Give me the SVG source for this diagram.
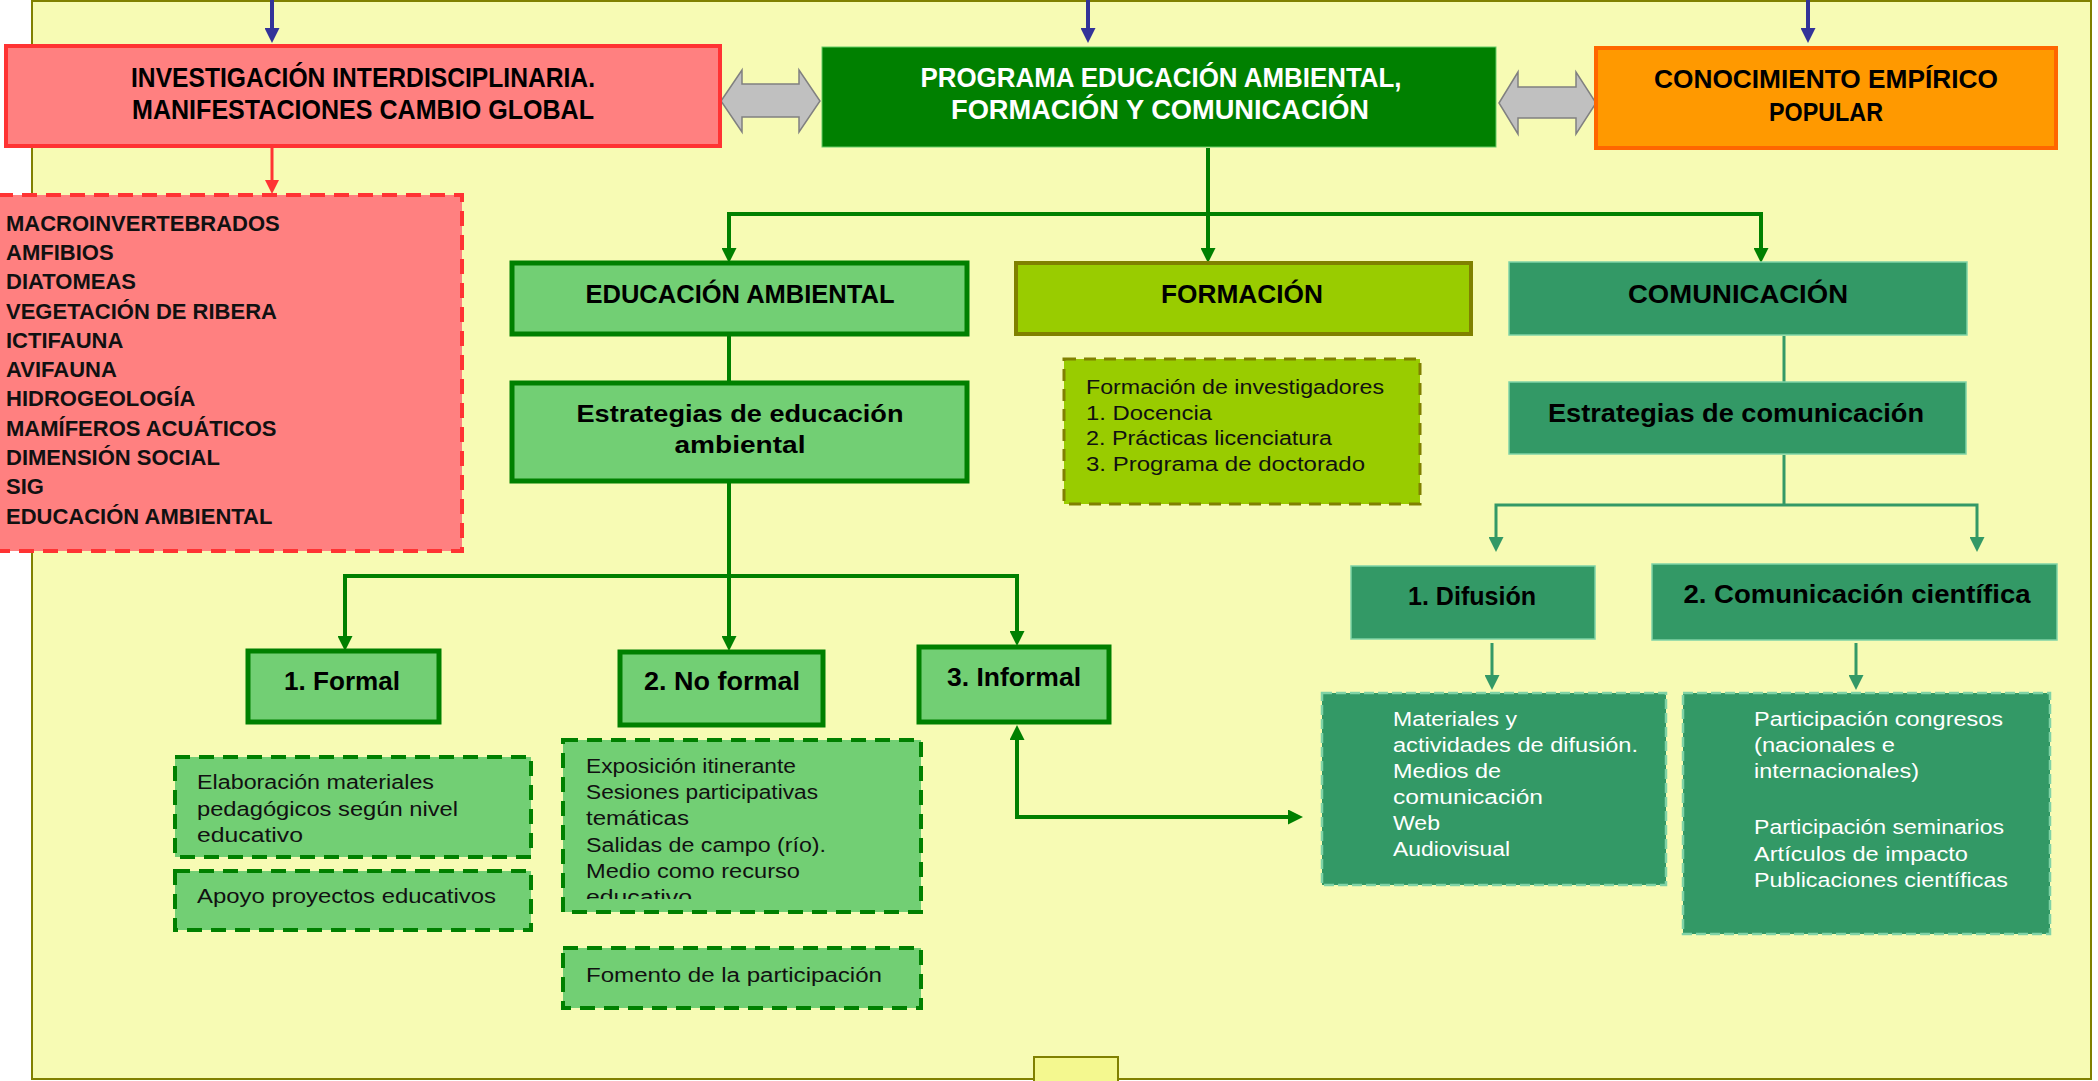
<svg xmlns="http://www.w3.org/2000/svg" width="2098" height="1081" viewBox="0 0 2098 1081">
  <style>
    .hd { font-family: "Liberation Sans", Arial, sans-serif; text-anchor: middle; font-weight: bold; }
    .t28 { font-size: 28px; }
    .t27 { font-size: 27px; }
    .t26 { font-size: 26px; }
    .t25 { font-size: 25px; }
    .t23 { font-size: 23px; }
    .list { font-family: "Liberation Sans", Arial, sans-serif; font-size: 22px; font-weight: bold; fill: #111; }
    .body { font-family: "Liberation Sans", Arial, sans-serif; font-size: 20px; fill: #111; }
    .bodyW { font-family: "Liberation Sans", Arial, sans-serif; font-size: 20px; fill: #ffffff; }
    .lg { fill: #72CF74; stroke: #008000; stroke-width: 5; }
    .lgd { fill: #72CF74; stroke: #008000; stroke-width: 4; stroke-dasharray: 15 9; }
    .lime { fill: #99CC00; stroke: #808000; stroke-width: 4; }
    .limed { fill: #99CC00; stroke: #808000; stroke-width: 3; stroke-dasharray: 12 8; }
    .teal { fill: #339966; stroke: #7FD3A6; stroke-width: 1.5; }
    .teald { fill: #339966; stroke: #7FD3A6; stroke-width: 2.5; stroke-dasharray: 10 4; }
    .dbl { fill: #C0C0C0; stroke: #808080; stroke-width: 1.5; }
    .cGreen { fill: none; stroke: #008000; stroke-width: 4; }
    .cTeal { fill: none; stroke: #339966; stroke-width: 3; }
    .cBlue { fill: none; stroke: #333399; stroke-width: 4; }
    .cRed { fill: none; stroke: #FF3333; stroke-width: 3; }
  </style>
  <defs>
    <marker id="mBlue" markerUnits="userSpaceOnUse" viewBox="0 0 10 10" markerWidth="15" markerHeight="15" refX="6.67" refY="5" orient="auto">
      <path d="M0,0 L10,5 L0,10 z" fill="#333399"/>
    </marker>
    <marker id="mRed" markerUnits="userSpaceOnUse" viewBox="0 0 10 10" markerWidth="14" markerHeight="14" refX="6.4" refY="5" orient="auto">
      <path d="M0,0 L10,5 L0,10 z" fill="#FF3333"/>
    </marker>
    <marker id="mGreen" markerUnits="userSpaceOnUse" viewBox="0 0 10 10" markerWidth="15" markerHeight="15" refX="6.67" refY="5" orient="auto-start-reverse">
      <path d="M0,0 L10,5 L0,10 z" fill="#008000"/>
    </marker>
    <marker id="mTeal" markerUnits="userSpaceOnUse" viewBox="0 0 10 10" markerWidth="15" markerHeight="15" refX="6.67" refY="5" orient="auto-start-reverse">
      <path d="M0,0 L10,5 L0,10 z" fill="#339966"/>
    </marker>
    <clipPath id="clipNoFormal">
      <rect x="563" y="740" width="358" height="159"/>
    </clipPath>
  </defs>

  <!-- page -->
  <rect x="0" y="0" width="2098" height="1081" fill="#ffffff"/>
  <rect x="32" y="1" width="2059" height="1078" fill="#F7FBB4" stroke="#808000" stroke-width="2"/>
  <rect x="1034" y="1057" width="84" height="30" fill="#F4F88F" stroke="#808000" stroke-width="2"/>

  <!-- connectors -->
  <g id="connectors">
    <path class="cBlue" d="M272,0 V38" marker-end="url(#mBlue)"/>
    <path class="cBlue" d="M1088,0 V38" marker-end="url(#mBlue)"/>
    <path class="cBlue" d="M1808,0 V38" marker-end="url(#mBlue)"/>
    <path class="cRed" d="M272,147 V189" marker-end="url(#mRed)"/>

    <path class="cGreen" d="M1208,148 V258" marker-end="url(#mGreen)"/>
    <path class="cGreen" d="M729,258 V214 H1761 V258" marker-start="url(#mGreen)" marker-end="url(#mGreen)"/>
    <path class="cGreen" d="M729,334 V383"/>
    <path class="cGreen" d="M729,481 V646" marker-end="url(#mGreen)"/>
    <path class="cGreen" d="M345,646 V576 H1017 V641" marker-start="url(#mGreen)" marker-end="url(#mGreen)"/>
    <path class="cGreen" d="M1017,730 V817 H1298" marker-start="url(#mGreen)" marker-end="url(#mGreen)"/>

    <path class="cTeal" d="M1784,336 V382"/>
    <path class="cTeal" d="M1784,455 V505"/>
    <path class="cTeal" d="M1496,547 V505 H1977 V547" marker-start="url(#mTeal)" marker-end="url(#mTeal)"/>
    <path class="cTeal" d="M1492,643 V685" marker-end="url(#mTeal)"/>
    <path class="cTeal" d="M1856,643 V685" marker-end="url(#mTeal)"/>

    <polygon class="dbl" points="721,101 742,70 742,84 799,84 799,70 820,101 799,132 799,117 742,117 742,132"/>
    <polygon class="dbl" points="1499,103 1518,72 1518,87 1576,87 1576,72 1596,103 1576,134 1576,118 1518,118 1518,134"/>
  </g>

  <!-- top row -->
  <g id="investigacion">
    <rect x="6" y="46" width="714" height="100" fill="#FF8080" stroke="#FF3333" stroke-width="4"/>
    <text class="hd t28" x="363" y="87" textLength="464" lengthAdjust="spacingAndGlyphs">INVESTIGACIÓN INTERDISCIPLINARIA.</text>
    <text class="hd t28" x="363" y="119" textLength="462" lengthAdjust="spacingAndGlyphs">MANIFESTACIONES CAMBIO GLOBAL</text>
  </g>
  <g id="programa">
    <rect x="822" y="47" width="674" height="100" fill="#008000" stroke="#66CC66" stroke-width="1"/>
    <text class="hd t27" x="1161" y="87" fill="#ffffff" textLength="481" lengthAdjust="spacingAndGlyphs">PROGRAMA EDUCACIÓN AMBIENTAL,</text>
    <text class="hd t27" x="1160" y="119" fill="#ffffff" textLength="418" lengthAdjust="spacingAndGlyphs">FORMACIÓN Y COMUNICACIÓN</text>
  </g>
  <g id="conocimiento">
    <rect x="1596" y="48" width="460" height="100" fill="#FF9900" stroke="#FF6600" stroke-width="4"/>
    <text class="hd t25" x="1826" y="88" textLength="344" lengthAdjust="spacingAndGlyphs">CONOCIMIENTO EMPÍRICO</text>
    <text class="hd t25" x="1826" y="121" textLength="114" lengthAdjust="spacingAndGlyphs">POPULAR</text>
  </g>

  <!-- research topics -->
  <g id="temas">
    <rect x="-2" y="195" width="464" height="356" fill="#FF8080" stroke="#FF3333" stroke-width="4" stroke-dasharray="15 9"/>
    <text class="list" x="6" y="231">MACROINVERTEBRADOS</text>
    <text class="list" x="6" y="260">AMFIBIOS</text>
    <text class="list" x="6" y="289">DIATOMEAS</text>
    <text class="list" x="6" y="319">VEGETACIÓN DE RIBERA</text>
    <text class="list" x="6" y="348">ICTIFAUNA</text>
    <text class="list" x="6" y="377">AVIFAUNA</text>
    <text class="list" x="6" y="406">HIDROGEOLOGÍA</text>
    <text class="list" x="6" y="436">MAMÍFEROS ACUÁTICOS</text>
    <text class="list" x="6" y="465">DIMENSIÓN SOCIAL</text>
    <text class="list" x="6" y="494">SIG</text>
    <text class="list" x="6" y="524">EDUCACIÓN AMBIENTAL</text>
  </g>

  <!-- second level -->
  <g id="educacion-ambiental">
    <rect class="lg" x="512" y="263" width="455" height="71"/>
    <text class="hd t25" x="740" y="303" textLength="309" lengthAdjust="spacingAndGlyphs">EDUCACIÓN AMBIENTAL</text>
  </g>
  <g id="formacion">
    <rect class="lime" x="1016" y="263" width="455" height="71"/>
    <text class="hd t25" x="1242" y="303" textLength="162" lengthAdjust="spacingAndGlyphs">FORMACIÓN</text>
  </g>
  <g id="comunicacion">
    <rect class="teal" x="1509" y="262" width="458" height="73"/>
    <text class="hd t26" x="1738" y="303" textLength="220" lengthAdjust="spacingAndGlyphs">COMUNICACIÓN</text>
  </g>

  <g id="estrategias-ea">
    <rect class="lg" x="512" y="383" width="455" height="98"/>
    <text class="hd t23" x="740" y="422" textLength="327" lengthAdjust="spacingAndGlyphs">Estrategias de educación</text>
    <text class="hd t23" x="740" y="453" textLength="131" lengthAdjust="spacingAndGlyphs">ambiental</text>
  </g>
  <g id="formacion-detalle">
    <rect class="limed" x="1064" y="359" width="356" height="145"/>
    <text class="body" x="1086" y="394" textLength="298" lengthAdjust="spacingAndGlyphs">Formación de investigadores</text>
    <text class="body" x="1086" y="420" textLength="126" lengthAdjust="spacingAndGlyphs">1. Docencia</text>
    <text class="body" x="1086" y="445" textLength="246" lengthAdjust="spacingAndGlyphs">2. Prácticas licenciatura</text>
    <text class="body" x="1086" y="471" textLength="279" lengthAdjust="spacingAndGlyphs">3. Programa de doctorado</text>
  </g>
  <g id="estrategias-com">
    <rect class="teal" x="1509" y="382" width="457" height="72"/>
    <text class="hd t25" x="1736" y="422" textLength="376" lengthAdjust="spacingAndGlyphs">Estrategias de comunicación</text>
  </g>

  <!-- education branches -->
  <g id="formal">
    <rect class="lg" x="248" y="651" width="191" height="71"/>
    <text class="hd t26" x="342" y="690" textLength="116" lengthAdjust="spacingAndGlyphs">1. Formal</text>
  </g>
  <g id="no-formal">
    <rect class="lg" x="620" y="652" width="203" height="73"/>
    <text class="hd t26" x="722" y="690" textLength="156" lengthAdjust="spacingAndGlyphs">2. No formal</text>
  </g>
  <g id="informal">
    <rect class="lg" x="919" y="647" width="190" height="75"/>
    <text class="hd t26" x="1014" y="686" textLength="134" lengthAdjust="spacingAndGlyphs">3. Informal</text>
  </g>

  <g id="formal-materiales">
    <rect class="lgd" x="175" y="757" width="356" height="100"/>
    <text class="body" x="197" y="789" textLength="237" lengthAdjust="spacingAndGlyphs">Elaboración materiales</text>
    <text class="body" x="197" y="816" textLength="261" lengthAdjust="spacingAndGlyphs">pedagógicos según nivel</text>
    <text class="body" x="197" y="842" textLength="106" lengthAdjust="spacingAndGlyphs">educativo</text>
  </g>
  <g id="formal-apoyo">
    <rect class="lgd" x="175" y="871" width="356" height="59"/>
    <text class="body" x="197" y="903" textLength="299" lengthAdjust="spacingAndGlyphs">Apoyo proyectos educativos</text>
  </g>
  <g id="no-formal-actividades">
    <rect class="lgd" x="563" y="740" width="358" height="172"/>
    <g clip-path="url(#clipNoFormal)">
      <text class="body" x="586" y="773" textLength="210" lengthAdjust="spacingAndGlyphs">Exposición itinerante</text>
      <text class="body" x="586" y="799" textLength="232" lengthAdjust="spacingAndGlyphs">Sesiones participativas</text>
      <text class="body" x="586" y="825" textLength="103" lengthAdjust="spacingAndGlyphs">temáticas</text>
      <text class="body" x="586" y="852" textLength="240" lengthAdjust="spacingAndGlyphs">Salidas de campo (río).</text>
      <text class="body" x="586" y="878" textLength="214" lengthAdjust="spacingAndGlyphs">Medio como recurso</text>
      <text class="body" x="586" y="904" textLength="106" lengthAdjust="spacingAndGlyphs">educativo</text>
    </g>
  </g>
  <g id="no-formal-fomento">
    <rect class="lgd" x="563" y="948" width="358" height="60"/>
    <text class="body" x="586" y="982" textLength="296" lengthAdjust="spacingAndGlyphs">Fomento de la participación</text>
  </g>

  <!-- communication branches -->
  <g id="difusion">
    <rect class="teal" x="1351" y="566" width="244" height="73"/>
    <text class="hd t25" x="1472" y="605" textLength="128" lengthAdjust="spacingAndGlyphs">1. Difusión</text>
  </g>
  <g id="comunicacion-cientifica">
    <rect class="teal" x="1652" y="564" width="405" height="76"/>
    <text class="hd t25" x="1857" y="603" textLength="347" lengthAdjust="spacingAndGlyphs">2. Comunicación científica</text>
  </g>
  <g id="difusion-detalle">
    <rect class="teald" x="1322" y="693" width="344" height="192"/>
    <text class="bodyW" x="1393" y="726" textLength="124" lengthAdjust="spacingAndGlyphs">Materiales y</text>
    <text class="bodyW" x="1393" y="752" textLength="245" lengthAdjust="spacingAndGlyphs">actividades de difusión.</text>
    <text class="bodyW" x="1393" y="778" textLength="108" lengthAdjust="spacingAndGlyphs">Medios de</text>
    <text class="bodyW" x="1393" y="804" textLength="150" lengthAdjust="spacingAndGlyphs">comunicación</text>
    <text class="bodyW" x="1393" y="830" textLength="47" lengthAdjust="spacingAndGlyphs">Web</text>
    <text class="bodyW" x="1393" y="856" textLength="117" lengthAdjust="spacingAndGlyphs">Audiovisual</text>
  </g>
  <g id="cientifica-detalle">
    <rect class="teald" x="1683" y="693" width="367" height="241"/>
    <text class="bodyW" x="1754" y="726" textLength="249" lengthAdjust="spacingAndGlyphs">Participación congresos</text>
    <text class="bodyW" x="1754" y="752" textLength="141" lengthAdjust="spacingAndGlyphs">(nacionales e</text>
    <text class="bodyW" x="1754" y="778" textLength="165" lengthAdjust="spacingAndGlyphs">internacionales)</text>
    <text class="bodyW" x="1754" y="834" textLength="250" lengthAdjust="spacingAndGlyphs">Participación seminarios</text>
    <text class="bodyW" x="1754" y="861" textLength="214" lengthAdjust="spacingAndGlyphs">Artículos de impacto</text>
    <text class="bodyW" x="1754" y="887" textLength="254" lengthAdjust="spacingAndGlyphs">Publicaciones científicas</text>
  </g>
</svg>
